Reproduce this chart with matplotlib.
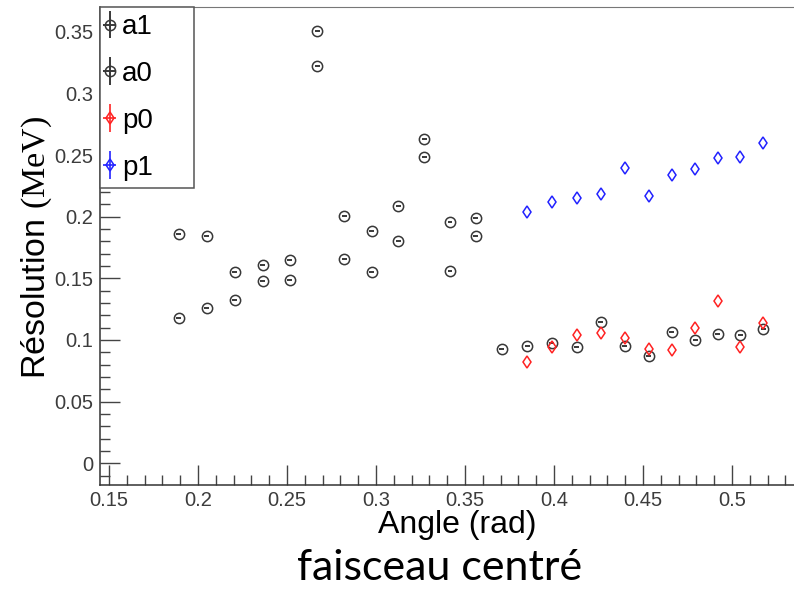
"""
Energy resolution versus angle, centred beam.
"""

import matplotlib.pyplot as plt
from matplotlib.container import ErrorbarContainer
from matplotlib.legend_handler import HandlerErrorbar
from matplotlib.ticker import MultipleLocator, FormatStrFormatter

# Global plot settings
plt.rcParams.update({
	"font.family": ["Liberation Sans", "DejaVu Sans"],
	"mathtext.fontset": "custom",
	"mathtext.rm": "Liberation Serif",
	"axes.unicode_minus": False,
	})

# Data
angle_left = [0.1893, 0.2049, 0.2208, 0.2364, 0.2517, 0.2670,
	0.2822, 0.2976, 0.3125, 0.3271, 0.3416, 0.3562]
angle_right = [0.3706, 0.3850, 0.3987, 0.4128, 0.4262, 0.4399,
	0.4532, 0.4663, 0.4794, 0.4921, 0.5047, 0.5176]
angle_p = angle_right[1:]

a1 = [0.1857, 0.1846, 0.1554, 0.1608, 0.1649, 0.3508,
	0.2006, 0.1884, 0.2087, 0.2630, 0.1955, 0.1987]
a0 = [0.1180, 0.1257, 0.1324, 0.1478, 0.1487, 0.3222,
	0.1654, 0.1549, 0.1806, 0.2487, 0.1560, 0.1843,
	0.0925, 0.0951, 0.0978, 0.0946, 0.1149, 0.0951,
	0.0868, 0.1062, 0.1000, 0.1047, 0.1038, 0.1093]
p0 = [0.0824, 0.0940, 0.1038, 0.1054, 0.1020, 0.0926,
	0.0919, 0.1099, 0.1316, 0.0946, 0.1140]
p1 = [0.2036, 0.2117, 0.2149, 0.2184, 0.2398, 0.2170,
	0.2338, 0.2384, 0.2474, 0.2487, 0.2600]

xticks = [0.15, 0.2, 0.25, 0.3, 0.35, 0.4, 0.45, 0.5]
yticks = [0, 0.05, 0.1, 0.15, 0.2, 0.25, 0.3, 0.35]

fig = plt.figure(figsize=(7.94, 5.89), dpi=100)
# the frame runs past the right edge of the picture
ax = fig.add_axes([0.1259, 0.1766, 0.908, 0.811])

black = "#383838"
circle = dict(fmt="o", ms=7.4, mfc="none", mew=1.1, elinewidth=1.4)
diamond = dict(fmt="d", ms=6.2, mfc="none", mew=1.1, elinewidth=1.2)

ax.errorbar(angle_left, a1, xerr=0.0014, yerr=0, color=black, label="a1", **circle)
ax.errorbar(angle_left + angle_right, a0, xerr=0.0014, yerr=0, color=black, label="a0", **circle)
ax.errorbar(angle_p, p0, xerr=0, yerr=0, color="#ff2222", label="p0", **diamond)
ax.errorbar(angle_p, p1, xerr=0, yerr=0, color="#2222ff", label="p1", **diamond)

ax.set_xlim(0.14494, 0.55)
ax.set_ylim(-0.0176, 0.3698)
ax.set_xticks(xticks)
ax.set_yticks(yticks)
ax.xaxis.set_major_formatter(FormatStrFormatter("%g"))
ax.yaxis.set_major_formatter(FormatStrFormatter("%g"))
ax.xaxis.set_minor_locator(MultipleLocator(0.01))
ax.yaxis.set_minor_locator(MultipleLocator(0.01))
ax.tick_params(which="both", direction="in", color="#444444", width=1.0,
	labelsize=14.5, labelcolor="#3c3c3c")
ax.tick_params(which="major", length=14.4)
ax.tick_params(which="minor", length=7.2)
ax.tick_params(axis="x", pad=4.0)
ax.tick_params(axis="y", pad=5)

for side in ["left", "bottom"]:
	ax.spines[side].set_color("#333333")
	ax.spines[side].set_linewidth(1.1)
ax.spines["top"].set_color("#777777")
ax.spines["top"].set_linewidth(0.8)
ax.spines["right"].set_visible(False)

ax.set_ylabel("Résolution $\\mathrm{(MeV)}$", fontsize=24.5)
ax.yaxis.set_label_coords(-0.064, 0.497)
ax.set_xlabel("Angle (rad)", fontsize=23)
ax.xaxis.set_label_coords(0.4958, -0.052)

leg = ax.legend(loc="upper left", bbox_to_anchor=(0, 1, 0.1304, 0), mode="expand",
	borderaxespad=0, fontsize=20, borderpad=0.25, handlelength=0.2,
	handletextpad=0.35, labelspacing=0.75, fancybox=False, framealpha=1,
	edgecolor="#555555",
	handler_map={ErrorbarContainer: HandlerErrorbar(xerr_size=0.23, yerr_size=0.5)})
leg.get_frame().set_linewidth(1.1)

fig.text(0.553, 0.0153, "faisceau centré", family=["Lato", "DejaVu Sans"],
	fontsize=31, ha="center", va="baseline")

fig.savefig("out.png", dpi=100)
